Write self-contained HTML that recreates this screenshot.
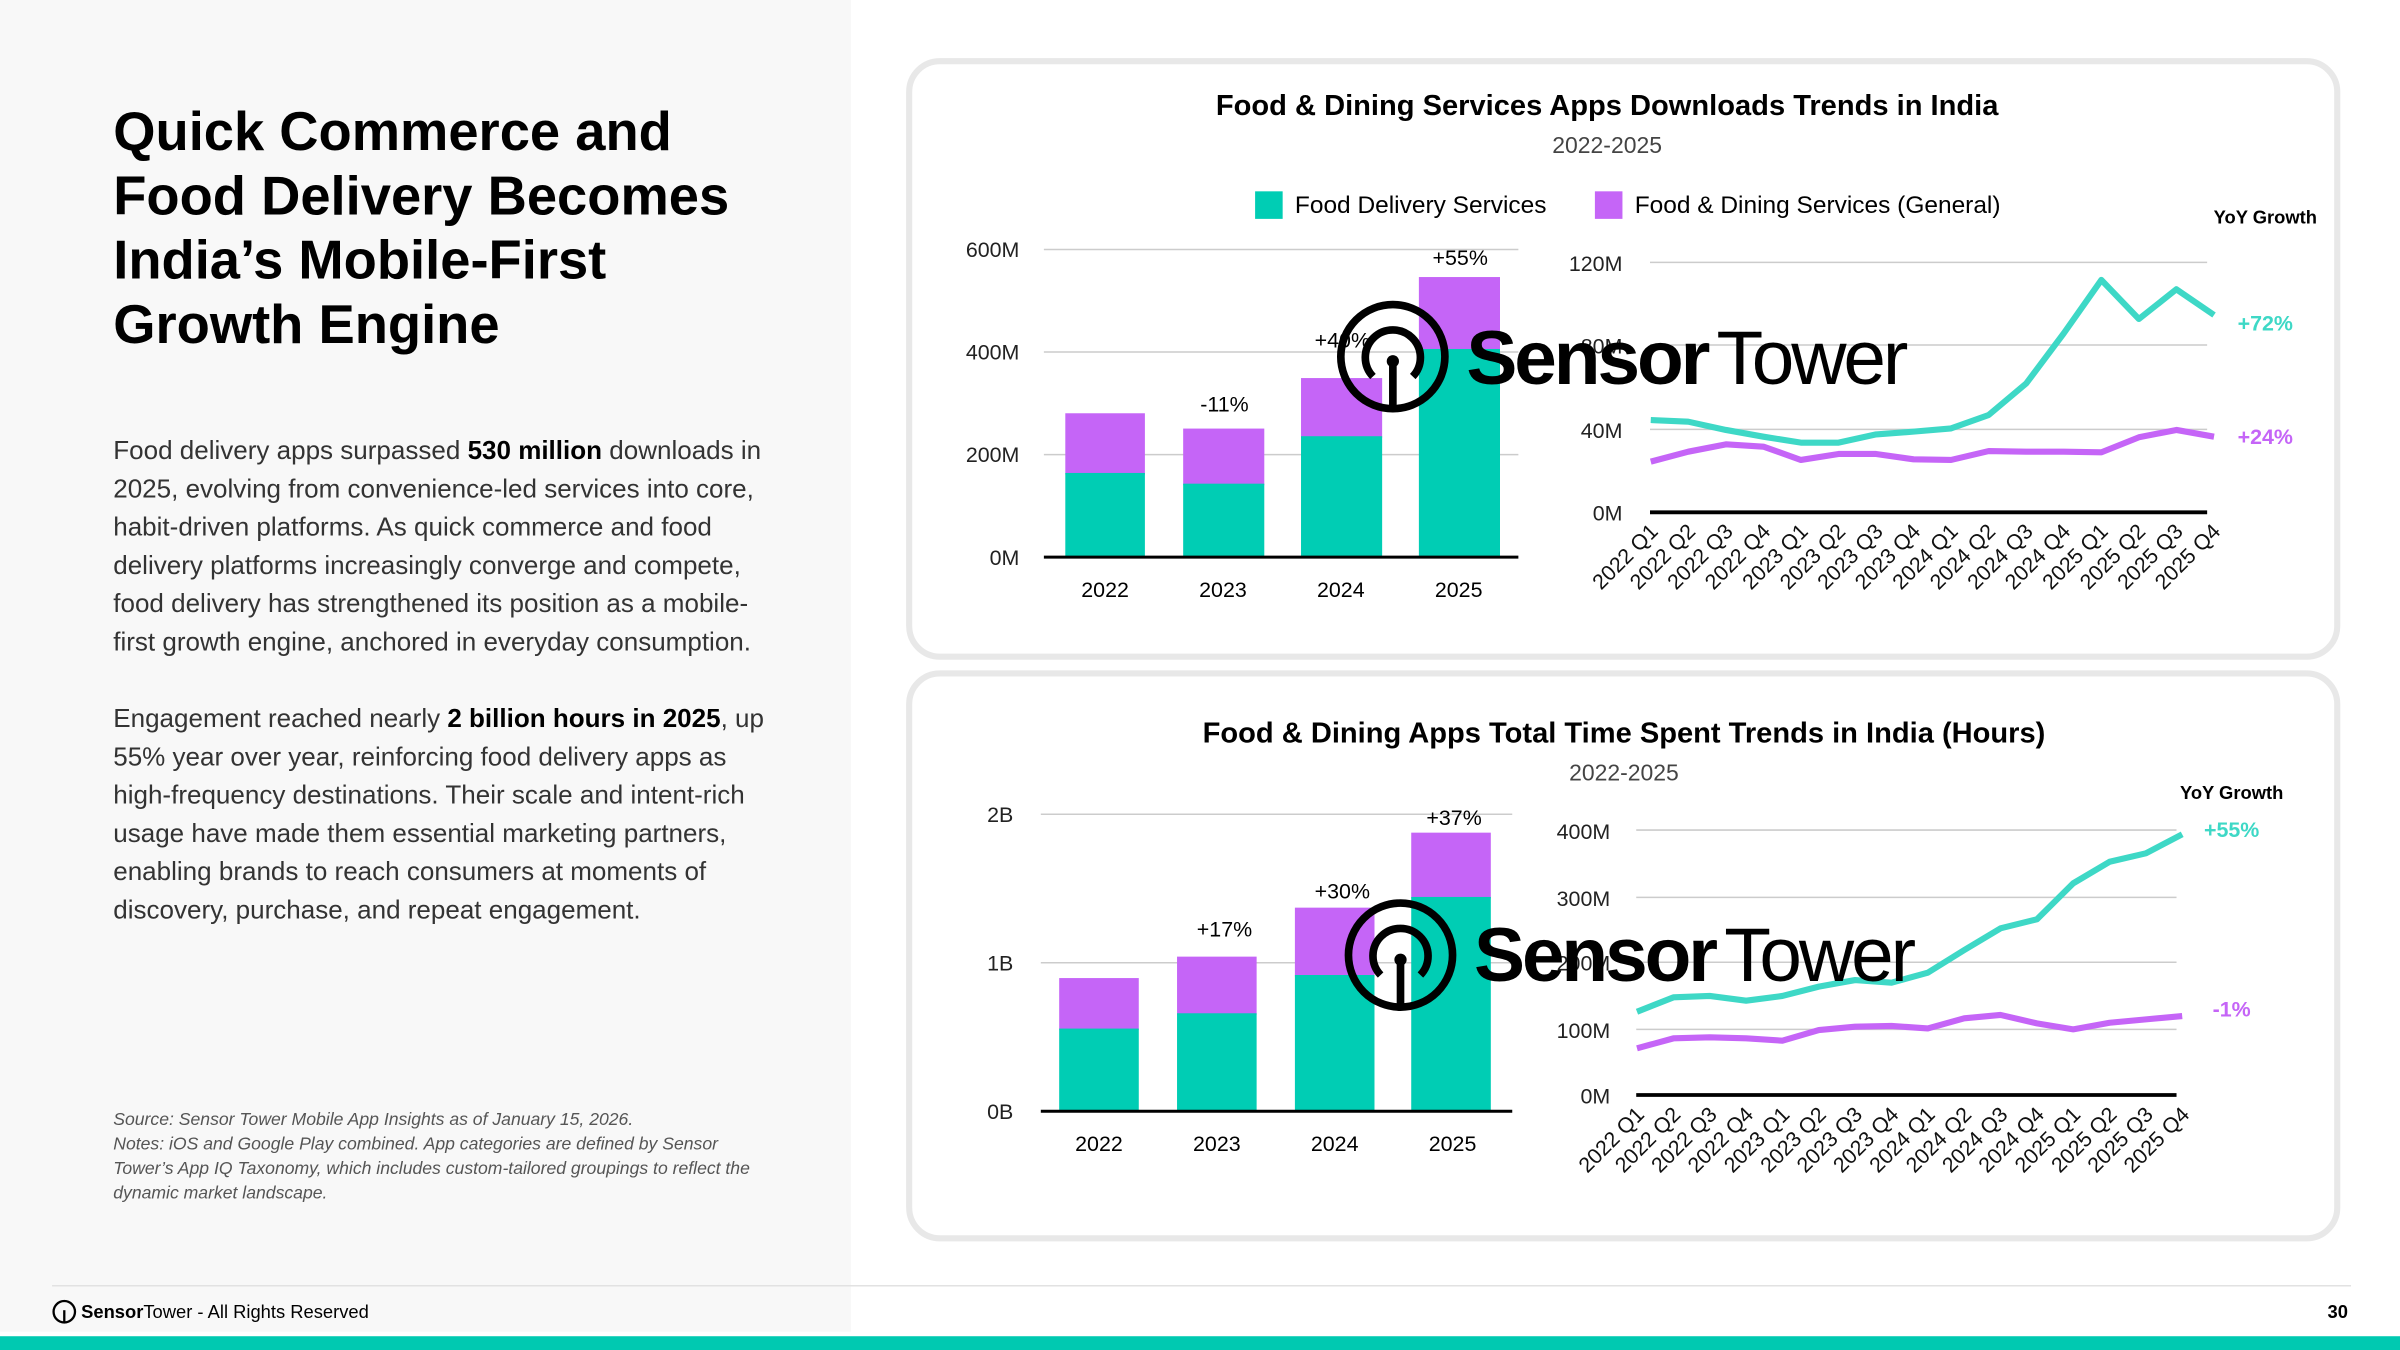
<!DOCTYPE html>
<html><head><meta charset="utf-8"><style>
html,body{margin:0;padding:0;background:#fff;}
svg{display:block;}
text{font-family:"Liberation Sans",sans-serif;}
</style></head><body>
<svg width="2400" height="1350" viewBox="0 0 1568 882" xmlns="http://www.w3.org/2000/svg">
<rect x="0" y="0" width="1568" height="882" fill="#fff"/>
<rect x="0" y="0" width="556" height="870" fill="#f8f8f8"/>
<g font-weight="bold" font-size="35.5" fill="#000">
<text x="74" y="98">Quick Commerce and</text>
<text x="74" y="140">Food Delivery Becomes</text>
<text x="74" y="182">India’s Mobile-First</text>
<text x="74" y="224">Growth Engine</text>
</g>
<g font-size="17" fill="#333">
<text x="74" y="300">Food delivery apps surpassed <tspan font-weight="bold" fill="#000">530 million</tspan> downloads in</text>
<text x="74" y="325">2025, evolving from convenience-led services into core,</text>
<text x="74" y="350">habit-driven platforms. As quick commerce and food</text>
<text x="74" y="375">delivery platforms increasingly converge and compete,</text>
<text x="74" y="400">food delivery has strengthened its position as a mobile-</text>
<text x="74" y="425">first growth engine, anchored in everyday consumption.</text>
<text x="74" y="475">Engagement reached nearly <tspan font-weight="bold" fill="#000">2 billion hours in 2025</tspan>, up</text>
<text x="74" y="500">55% year over year, reinforcing food delivery apps as</text>
<text x="74" y="525">high-frequency destinations. Their scale and intent-rich</text>
<text x="74" y="550">usage have made them essential marketing partners,</text>
<text x="74" y="575">enabling brands to reach consumers at moments of</text>
<text x="74" y="600">discovery, purchase, and repeat engagement.</text>
</g>
<g font-size="11.5" font-style="italic" fill="#555">
<text x="74" y="735">Source: Sensor Tower Mobile App Insights as of January 15, 2026.</text>
<text x="74" y="751">Notes: iOS and Google Play combined. App categories are defined by Sensor</text>
<text x="74" y="767">Tower’s App IQ Taxonomy, which includes custom-tailored groupings to reflect the</text>
<text x="74" y="783">dynamic market landscape.</text>
</g>
<line x1="34" y1="840" x2="1536" y2="840" stroke="#e2e2e2" stroke-width="1"/>
<circle cx="42" cy="857" r="7" fill="none" stroke="#000" stroke-width="1.5"/>
<line x1="42" y1="856" x2="42" y2="864" stroke="#000" stroke-width="1.5"/>
<text x="53" y="861" font-size="12" fill="#000"><tspan font-weight="bold">Sensor</tspan>Tower - All Rights Reserved</text>
<text x="1534" y="861" font-size="12" font-weight="bold" text-anchor="end">30</text>
<rect x="0" y="873" width="1568" height="9" fill="#00c9b1"/>
<rect x="594" y="40" width="933" height="389" rx="20" fill="#fff" stroke="#e8e8e8" stroke-width="4"/>
<rect x="594" y="440" width="933" height="369" rx="20" fill="#fff" stroke="#e8e8e8" stroke-width="4"/>

<text x="1050" y="75" font-size="19" font-weight="bold" text-anchor="middle">Food &amp; Dining Services Apps Downloads Trends in India</text>
<text x="1050" y="100" font-size="15" fill="#444" text-anchor="middle">2022-2025</text>
<rect x="820" y="125" width="18" height="18" fill="#00cdb4"/>
<text x="846" y="139" font-size="16">Food Delivery Services</text>
<rect x="1042" y="125" width="18" height="18" fill="#c565f7"/>
<text x="1068" y="139" font-size="16">Food &amp; Dining Services (General)</text>
<text x="1480" y="146" font-size="12" font-weight="bold" text-anchor="middle">YoY Growth</text>
<g stroke="#ccc" stroke-width="1">
<line x1="682" y1="163" x2="992" y2="163"/><line x1="682" y1="230" x2="992" y2="230"/><line x1="682" y1="297" x2="992" y2="297"/>
</g>
<g font-size="14" text-anchor="end" fill="#222">
<text x="666" y="168">600M</text><text x="666" y="235">400M</text><text x="666" y="302">200M</text><text x="666" y="369">0M</text>
</g>
<rect x="696" y="270" width="52" height="40" fill="#c565f7"/><rect x="696" y="309" width="52" height="55" fill="#00cdb4"/>
<rect x="773" y="280" width="53" height="37" fill="#c565f7"/><rect x="773" y="316" width="53" height="48" fill="#00cdb4"/>
<rect x="850" y="247" width="53" height="39" fill="#c565f7"/><rect x="850" y="285" width="53" height="79" fill="#00cdb4"/>
<rect x="927" y="181" width="53" height="48" fill="#c565f7"/><rect x="927" y="228" width="53" height="136" fill="#00cdb4"/>
<line x1="682" y1="364" x2="992" y2="364" stroke="#000" stroke-width="2"/>
<g font-size="14" text-anchor="middle">
<text x="800" y="269">-11%</text><text x="877" y="227">+40%</text><text x="954" y="173">+55%</text>
<text x="722" y="390">2022</text><text x="799" y="390">2023</text><text x="876" y="390">2024</text><text x="953" y="390">2025</text>
</g>
<g stroke="#ccc" stroke-width="1">
<line x1="1078" y1="171.4" x2="1442" y2="171.4"/><line x1="1078" y1="225.4" x2="1442" y2="225.4"/><line x1="1078" y1="280.5" x2="1442" y2="280.5"/>
</g>
<g font-size="14" text-anchor="end" fill="#222">
<text x="1060" y="177">120M</text><text x="1060" y="231">80M</text><text x="1060" y="286">40M</text><text x="1060" y="340">0M</text>
</g>
<line x1="1078" y1="334.7" x2="1442" y2="334.7" stroke="#000" stroke-width="2.5"/>
<polyline fill="none" stroke="#3ed8c6" stroke-width="4" stroke-linejoin="round" points="1078.5,274.4 1103,275.5 1127.6,280.9 1152.1,285.3 1176.6,289.2 1201.2,289.2 1225.7,283.8 1250.2,282 1274.7,279.9 1299.3,271.1 1323.8,250.5 1348.3,217.8 1372.9,182.9 1397.4,208.4 1421.9,189 1446.5,205.8"/>
<polyline fill="none" stroke="#c565f7" stroke-width="4" stroke-linejoin="round" points="1078.5,301.6 1103,295.1 1127.6,290.3 1152.1,291.8 1176.6,300.5 1201.2,296.6 1225.7,296.6 1250.2,300.1 1274.7,300.5 1299.3,294.7 1323.8,295.1 1348.3,295.1 1372.9,295.5 1397.4,285.7 1421.9,280.9 1446.5,285.3"/>
<text x="1480" y="216" font-size="14" font-weight="bold" fill="#3ed8c6" text-anchor="middle">+72%</text>
<text x="1480" y="290" font-size="14" font-weight="bold" fill="#c565f7" text-anchor="middle">+24%</text>
<g font-size="14" fill="#111">
<text transform="translate(1084,348) rotate(-45)" text-anchor="end">2022 Q1</text>
<text transform="translate(1108.5,348) rotate(-45)" text-anchor="end">2022 Q2</text>
<text transform="translate(1133,348) rotate(-45)" text-anchor="end">2022 Q3</text>
<text transform="translate(1157.5,348) rotate(-45)" text-anchor="end">2022 Q4</text>
<text transform="translate(1182,348) rotate(-45)" text-anchor="end">2023 Q1</text>
<text transform="translate(1206.5,348) rotate(-45)" text-anchor="end">2023 Q2</text>
<text transform="translate(1231,348) rotate(-45)" text-anchor="end">2023 Q3</text>
<text transform="translate(1255.5,348) rotate(-45)" text-anchor="end">2023 Q4</text>
<text transform="translate(1280,348) rotate(-45)" text-anchor="end">2024 Q1</text>
<text transform="translate(1304.5,348) rotate(-45)" text-anchor="end">2024 Q2</text>
<text transform="translate(1329,348) rotate(-45)" text-anchor="end">2024 Q3</text>
<text transform="translate(1353.5,348) rotate(-45)" text-anchor="end">2024 Q4</text>
<text transform="translate(1378,348) rotate(-45)" text-anchor="end">2025 Q1</text>
<text transform="translate(1402.5,348) rotate(-45)" text-anchor="end">2025 Q2</text>
<text transform="translate(1427,348) rotate(-45)" text-anchor="end">2025 Q3</text>
<text transform="translate(1451.5,348) rotate(-45)" text-anchor="end">2025 Q4</text>
</g>
<g>
<circle cx="910" cy="233" r="34" fill="none" stroke="#000" stroke-width="5"/>
<path d="M897,246 A18,18 0 1 1 923,246" fill="none" stroke="#000" stroke-width="5"/>
<circle cx="910" cy="236" r="4" fill="#000"/>
<line x1="910" y1="236" x2="910" y2="266" stroke="#000" stroke-width="5"/>
<text x="958" y="251" font-size="50" fill="#000" letter-spacing="-2"><tspan font-weight="bold">Sensor</tspan><tspan dx="6">Tower</tspan></text>
</g>

<text x="1061" y="485" font-size="19" font-weight="bold" text-anchor="middle">Food &amp; Dining  Apps Total Time Spent Trends in India (Hours)</text>
<text x="1061" y="510" font-size="15" fill="#444" text-anchor="middle">2022-2025</text>
<text x="1458" y="522" font-size="12" font-weight="bold" text-anchor="middle">YoY Growth</text>
<g stroke="#ccc" stroke-width="1">
<line x1="680" y1="532" x2="988" y2="532"/><line x1="680" y1="629" x2="988" y2="629"/>
</g>
<g font-size="14" text-anchor="end" fill="#222">
<text x="662" y="537">2B</text><text x="662" y="634">1B</text><text x="662" y="731">0B</text>
</g>
<rect x="692" y="639" width="52" height="34" fill="#c565f7"/><rect x="692" y="672" width="52" height="54" fill="#00cdb4"/>
<rect x="769" y="625" width="52" height="38" fill="#c565f7"/><rect x="769" y="662" width="52" height="64" fill="#00cdb4"/>
<rect x="846" y="593" width="52" height="45" fill="#c565f7"/><rect x="846" y="637" width="52" height="89" fill="#00cdb4"/>
<rect x="922" y="544" width="52" height="43" fill="#c565f7"/><rect x="922" y="586" width="52" height="140" fill="#00cdb4"/>
<line x1="680" y1="726" x2="988" y2="726" stroke="#000" stroke-width="2"/>
<g font-size="14" text-anchor="middle">
<text x="800" y="612">+17%</text><text x="877" y="587">+30%</text><text x="950" y="539">+37%</text>
<text x="718" y="752">2022</text><text x="795" y="752">2023</text><text x="872" y="752">2024</text><text x="949" y="752">2025</text>
</g>
<g stroke="#ccc" stroke-width="1">
<line x1="1069" y1="542.3" x2="1422" y2="542.3"/><line x1="1069" y1="586.3" x2="1422" y2="586.3"/><line x1="1069" y1="628.7" x2="1422" y2="628.7"/><line x1="1069" y1="672.5" x2="1422" y2="672.5"/>
</g>
<g font-size="14" text-anchor="end" fill="#222">
<text x="1052" y="548">400M</text><text x="1052" y="592">300M</text><text x="1052" y="634">200M</text><text x="1052" y="678">100M</text><text x="1052" y="721">0M</text>
</g>
<line x1="1069" y1="715.4" x2="1422" y2="715.4" stroke="#000" stroke-width="2.5"/>
<polyline fill="none" stroke="#3ed8c6" stroke-width="4" stroke-linejoin="round" points="1069.5,661 1093.3,651.6 1117,650.7 1140.8,653.8 1164.5,650.7 1188.3,644.6 1212,640.3 1235.8,642 1259.5,635.5 1283.3,620.7 1307,606.5 1330.8,600.6 1354.5,577.1 1378.3,563 1402,557.5 1425.7,545.1"/>
<polyline fill="none" stroke="#c565f7" stroke-width="4" stroke-linejoin="round" points="1069.5,684.9 1093.3,678.4 1117,677.7 1140.8,678.4 1164.5,679.9 1188.3,673 1212,670.8 1235.8,670.3 1259.5,671.9 1283.3,665.3 1307,663.1 1330.8,668.6 1354.5,672.5 1378.3,668.2 1402,666 1425.7,663.8"/>
<text x="1458" y="547" font-size="14" font-weight="bold" fill="#3ed8c6" text-anchor="middle">+55%</text>
<text x="1458" y="664" font-size="14" font-weight="bold" fill="#c565f7" text-anchor="middle">-1%</text>
<g font-size="14" fill="#111">
<text transform="translate(1075,729) rotate(-45)" text-anchor="end">2022 Q1</text>
<text transform="translate(1098.8,729) rotate(-45)" text-anchor="end">2022 Q2</text>
<text transform="translate(1122.5,729) rotate(-45)" text-anchor="end">2022 Q3</text>
<text transform="translate(1146.3,729) rotate(-45)" text-anchor="end">2022 Q4</text>
<text transform="translate(1170,729) rotate(-45)" text-anchor="end">2023 Q1</text>
<text transform="translate(1193.8,729) rotate(-45)" text-anchor="end">2023 Q2</text>
<text transform="translate(1217.5,729) rotate(-45)" text-anchor="end">2023 Q3</text>
<text transform="translate(1241.3,729) rotate(-45)" text-anchor="end">2023 Q4</text>
<text transform="translate(1265,729) rotate(-45)" text-anchor="end">2024 Q1</text>
<text transform="translate(1288.8,729) rotate(-45)" text-anchor="end">2024 Q2</text>
<text transform="translate(1312.5,729) rotate(-45)" text-anchor="end">2024 Q3</text>
<text transform="translate(1336.3,729) rotate(-45)" text-anchor="end">2024 Q4</text>
<text transform="translate(1360,729) rotate(-45)" text-anchor="end">2025 Q1</text>
<text transform="translate(1383.8,729) rotate(-45)" text-anchor="end">2025 Q2</text>
<text transform="translate(1407.5,729) rotate(-45)" text-anchor="end">2025 Q3</text>
<text transform="translate(1431.2,729) rotate(-45)" text-anchor="end">2025 Q4</text>
</g>
<g>
<circle cx="915" cy="624" r="34" fill="none" stroke="#000" stroke-width="5"/>
<path d="M902,637 A18,18 0 1 1 928,637" fill="none" stroke="#000" stroke-width="5"/>
<circle cx="915" cy="627" r="4" fill="#000"/>
<line x1="915" y1="627" x2="915" y2="657" stroke="#000" stroke-width="5"/>
<text x="963" y="641" font-size="50" fill="#000" letter-spacing="-2"><tspan font-weight="bold">Sensor</tspan><tspan dx="6">Tower</tspan></text>
</g>
</svg>
</body></html>
